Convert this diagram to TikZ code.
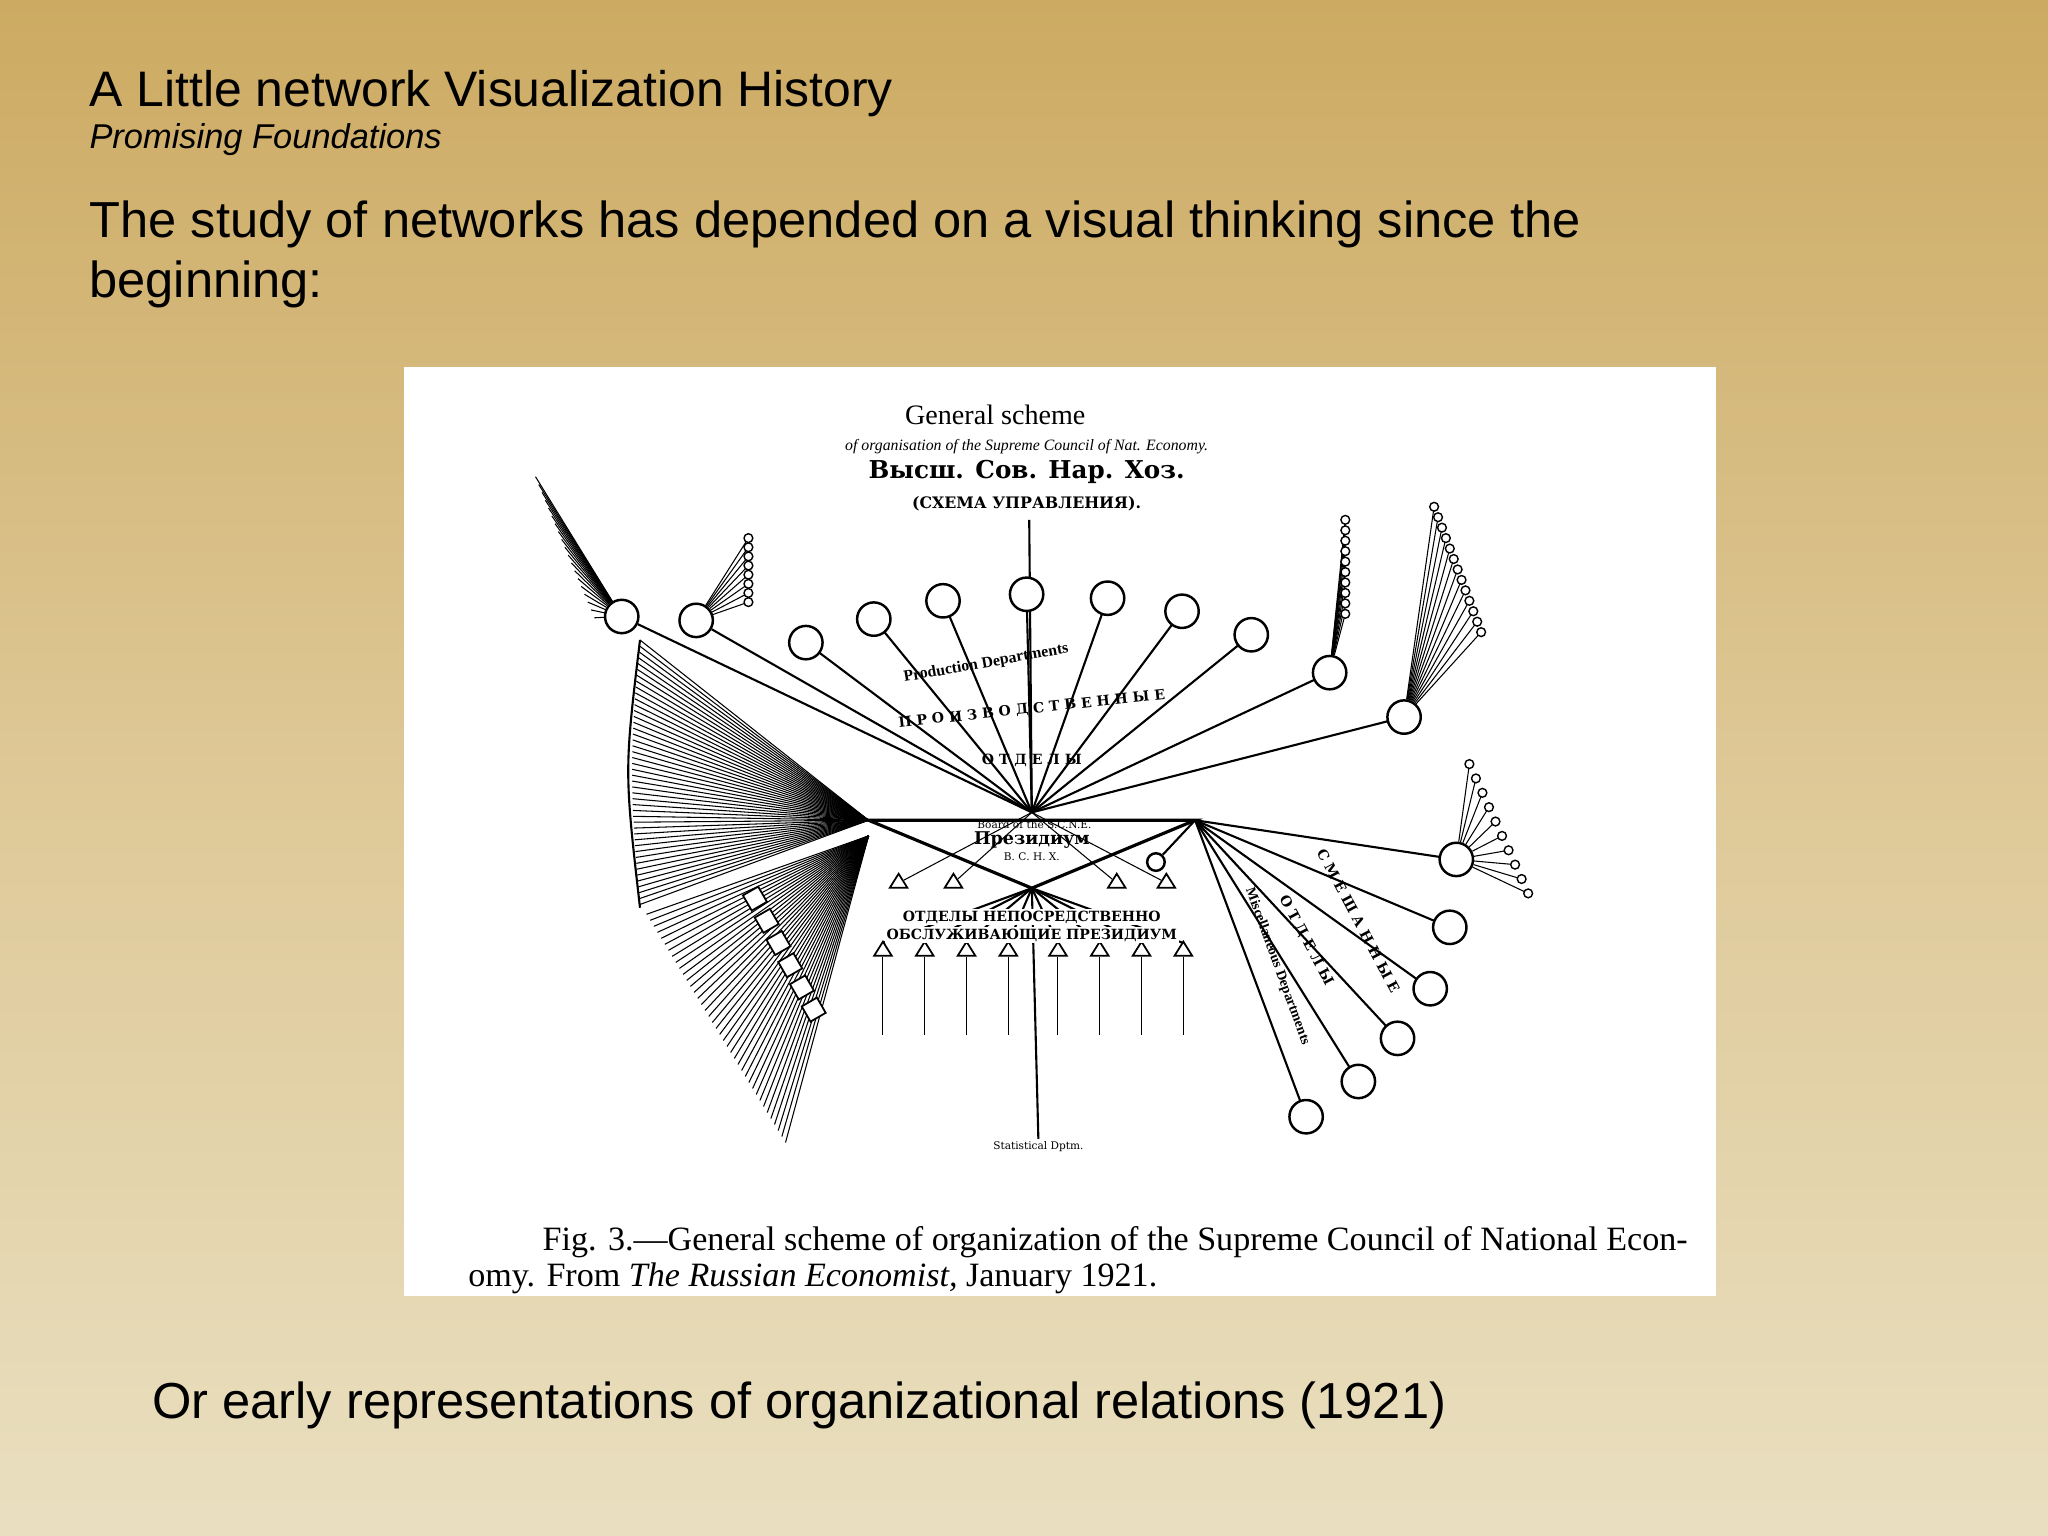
\documentclass[tikz,border=0pt]{standalone}
\usepackage{fontspec}
\setmainfont{Liberation Sans}
\newfontfamily\serifont{Liberation Serif}
\newfontfamily\cyrfont{DejaVu Serif}
\definecolor{bgtop}{RGB}{204,170,98}
\definecolor{bgmid}{RGB}{222,200,150}
\definecolor{bgbot}{RGB}{233,223,192}
\usetikzlibrary{shapes.geometric}
\tikzset{
  ink/.style={line width=0.6pt,black},
  thin/.style={line width=0.3pt,black},
  circ/.style={draw,circle,line width=0.7pt,fill=white,minimum size=9.5pt,inner sep=0},
  smallc/.style={draw,circle,line width=0.4pt,fill=white,minimum size=2.5pt,inner sep=0},
  tri/.style={draw,isosceles triangle,shape border rotate=90,minimum width=5pt,minimum height=4pt,isosceles triangle stretches,inner sep=0,line width=0.5pt,fill=white},
  sq/.style={draw,rectangle,rotate=30,minimum size=5pt,inner sep=0,fill=white,line width=0.5pt},
  tiny/.style={font=\cyrfont\fontsize{3}{3.5}\selectfont,inner sep=0.5pt},
  lbl/.style={font=\cyrfont\bfseries\fontsize{4}{5}\selectfont,inner sep=0.5pt},
  slidetext/.style={anchor=west,inner sep=0,text=black}
}
\begin{document}
\begin{tikzpicture}[x=0.01306cm,y=-0.01306cm]
\useasboundingbox (0,0) rectangle (1568,1176);
\shade[top color=bgtop,bottom color=bgbot,middle color=bgmid] (0,0) rectangle (1568,1176);
\node[slidetext,font=\fontsize{14.2}{17}\selectfont] (title) at (68,72) {A Little network Visualization History};
\node[slidetext,font=\itshape\fontsize{9.8}{12}\selectfont] (sub) at (68,107) {Promising Foundations};
\node[slidetext,font=\fontsize{14.4}{18}\selectfont] (b1) at (68,172) {The study of networks has depended on a visual thinking since the};
\node[slidetext,font=\fontsize{14.4}{18}\selectfont] (b2) at (68,218) {beginning:};
\node[slidetext,font=\fontsize{14.4}{18}\selectfont] (b3) at (116,1076) {Or early representations of organizational relations (1921)};
\fill[white] (309,281) rectangle (1314,992);
\node[font=\serifont\fontsize{8}{10}\selectfont] (h1) at (762,318) {General scheme};
\node[font=\serifont\itshape\fontsize{4.5}{6}\selectfont] (h2) at (786,342) {of organisation of the Supreme Council of Nat. Economy.};
\node[font=\cyrfont\bfseries\fontsize{7}{9}\selectfont] (h3) at (786,361) {Высш. Сов. Нар. Хоз.};
\node[font=\cyrfont\bfseries\fontsize{4.5}{6}\selectfont] (h4) at (786,386) {(СХЕМА УПРАВЛЕНИЯ).};
\coordinate (pl) at (665,628); \coordinate (pr) at (915,628); \coordinate (pb) at (790,680);
\draw[ink,line width=0.9pt] (pl)--(pr)--(pb)--cycle;
\node[font=\cyrfont\bfseries\fontsize{5}{6}\selectfont] (pres) at (790,643) {Президиум};
\node[tiny] (boardl) at (792,631) {Board of the S.C.N.E.};
\node[tiny] (bscn) at (790,656) {В. С. Н. Х.};
\coordinate (pc) at (790,622);
\coordinate (vt) at (788,398); \coordinate (vb) at (795,872);
\draw[ink] (vt)--(pc); \draw[ink] (pb)--(vb);
\node[tiny,below] (stat) at (vb) {Statistical Dptm.};
\foreach \x/\y/\n in {617/492/a,669/474/b,722/460/c,786/455/d,848/458/e,905/468/f,958/486/g,1018/515/h,1075/549/i}{
  \draw[ink] (pc)--(\x,\y);
  \node[circ] (t\n) at (\x,\y) {};
}
\node[circ] (fan1) at (533,475) {};
\foreach \k in {0,...,7}{ \draw[thin] (fan1)--({573},{412+\k*7}) node[smallc]{}; }
\foreach \k in {0,...,9}{ \draw[thin] (th)--({1030},{398+\k*8}) node[smallc]{}; }
\foreach \k in {0,...,12}{ \draw[thin] (ti)--({1098+\k*3},{388+\k*8}) node[smallc]{}; }
\node[circ] (chem) at (476,472) {};
\draw[ink] (pc)--(chem);
\draw[ink] (pc)--(fan1);
\foreach \k in {0,...,18}{ \draw[thin] (chem)--({410+\k*2.5},{365+\k*6}); }
\coordinate (lf) at (665,628);
\foreach \k in {0,...,45}{ \draw[thin] (lf)--({490-6*sin(\k*4)},{490+\k*4.5}); }
\draw[ink] (490,490) .. controls (478,590) .. (490,695);
\coordinate (lb) at (665,640);
\foreach \k in {0,...,38}{ \draw[thin] (lb)--({495+\k*2.8},{700+\k*4.6}); }
\foreach \k in {0,...,5}{ \node[sq] (s\k) at ({578+\k*9},{688+\k*17}) {}; }
\foreach \x/\y/\n in {1115/658/a,1110/710/b,1095/757/c,1070/795/d,1040/828/e,1000/855/f}{
  \draw[ink] (pr)--(\x,\y);
  \node[circ] (r\n) at (\x,\y) {};
}
\foreach \k in {0,...,9}{ \draw[thin] (ra)--({1125+\k*5},{585+\k*11}) node[smallc]{}; }
\node[circ,minimum size=5pt] (perm) at (885,660) {};
\draw[ink] (pr)--(perm);
\foreach \x/\n in {676/1,708/2,740/3,772/4,810/5,842/6,874/7,906/8}{
  \draw[ink] (pb)--(\x,722);
  \node[tri] (bt\n) at (\x,728) {};
  \draw[thin] (bt\n.south)--++(0,60);
}
\foreach \x/\n in {688/1,730/2,855/3,893/4}{ \node[tri] (ut\n) at (\x,676) {}; \draw[thin] (pc)--(ut\n); }
\node[lbl,font=\serifont\bfseries\fontsize{4.5}{5}\selectfont,rotate=10] (pd1) at (755,508) {Production Departments};
\node[lbl,rotate=6] (pd2) at (790,543) {П Р О И З В О Д С Т В Е Н Н Ы Е};
\node[lbl] (pd3) at (790,582) {О Т Д Е Л Ы};
\node[lbl,fill=white] (bd1) at (790,702) {ОТДЕЛЫ НЕПОСРЕДСТВЕННО};
\node[lbl,fill=white] (bd2) at (790,716) {ОБСЛУЖИВАЮЩИЕ ПРЕЗИДИУМ};
\node[lbl,rotate=-62] (ms) at (1040,705) {С М Е Ш А Н Н Ы Е};
\node[lbl,rotate=-62] (ot) at (1000,720) {О Т Д Е Л Ы};
\node[lbl,font=\serifont\bfseries\fontsize{4}{5}\selectfont,rotate=-70] (mx) at (978,740) {Miscellaneous Departments};
\node[anchor=west,font=\serifont\fontsize{9.7}{12}\selectfont] (cap1) at (406,951) {\textsc{Fig.} 3.—General scheme of organization of the Supreme Council of National Econ-};
\node[anchor=west,font=\serifont\fontsize{9.7}{12}\selectfont] (cap2) at (349,979) {omy. From \textit{The Russian Economist,} January 1921.};
\end{tikzpicture}
\end{document}
